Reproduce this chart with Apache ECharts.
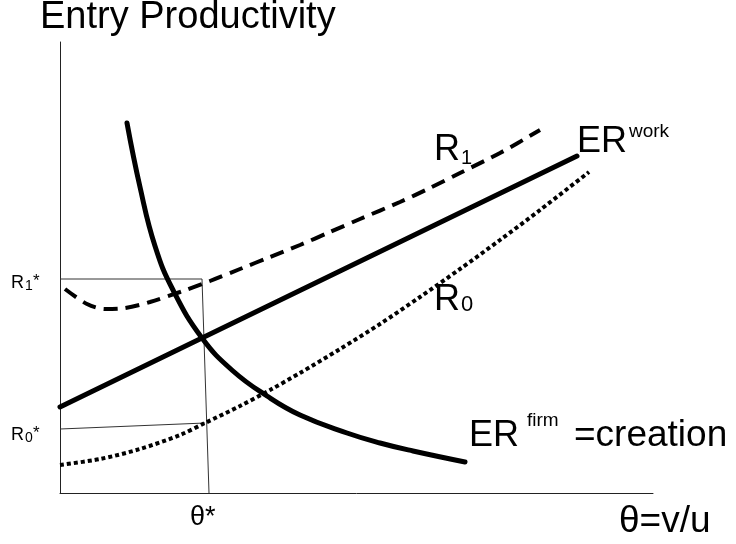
<!DOCTYPE html>
<html>
<head>
<meta charset="utf-8">
<script src="https://cdn.jsdelivr.net/npm/echarts@6/dist/echarts.min.js"></script>
<style>
html,body{margin:0;padding:0;background:#fff;}
#chart{width:736px;height:544px;}
</style>
</head>
<body>
<div id="chart"></div>
<script>
// Values (x: theta units, y: productivity units)
var erWork = [[0, 86], [142, 155], [517, 337]];
var erFirm = [[67, 370], [80, 306], [95, 247], [113, 203], [142, 155], [173, 122], [207, 97], [240, 78], [287, 60], [320, 50], [353, 42], [405, 31]];
var r1 = [[5, 204], [27, 189], [45, 184], [65, 185], [90, 191], [120, 201], [150, 212], [180, 224], [210, 236], [240, 248], [270, 261], [300, 274], [340, 291], [370, 305], [400, 320], [440, 340], [480, 363]];
var r0 = [[0, 28], [40, 34], [80, 44], [120, 58], [145, 70], [180, 87], [210, 103], [240, 120], [280, 144], [320, 169], [360, 196], [400, 224], [440, 253], [480, 283], [529, 321]];
var r1StarGuide = [[0, 214], [142, 214], [149, 0]];
var r0StarGuide = [[0, 64], [145, 70]];
var xRange = [0, 593];
var yRange = [0, 451];

var FONT = 'Liberation Sans, Arial, sans-serif';
function txt(x, y, s, size, align, va) {
  return {type: 'text', x: x, y: y, style: {text: s, fontSize: size, fontFamily: FONT, fill: '#000', align: align || 'left', verticalAlign: va || 'middle'}};
}

var chart = echarts.init(document.getElementById('chart'), null, {renderer: 'canvas'});
chart.setOption({
  animation: false,
  backgroundColor: '#fff',
  grid: {left: 60, top: 42, width: 593, height: 451},
  xAxis: {type: 'value', min: xRange[0], max: xRange[1], axisLine: {show: true, onZero: false, lineStyle: {color: '#222', width: 1}}, axisTick: {show: false}, axisLabel: {show: false}, splitLine: {show: false}},
  yAxis: {type: 'value', min: yRange[0], max: yRange[1], axisLine: {show: true, onZero: false, lineStyle: {color: '#222', width: 1}}, axisTick: {show: false}, axisLabel: {show: false}, splitLine: {show: false}},
  series: [
    {type: 'line', data: r1StarGuide, showSymbol: false, lineStyle: {color: '#333', width: 1}, z: 1},
    {type: 'line', data: r0StarGuide, showSymbol: false, lineStyle: {color: '#333', width: 1}, z: 1},
    {type: 'line', data: erWork, showSymbol: false, lineStyle: {color: '#000', width: 5, cap: 'round'}, z: 3},
    {type: 'line', data: erFirm, smooth: 0.45, showSymbol: false, lineStyle: {color: '#000', width: 5, cap: 'round'}, z: 3},
    {type: 'line', data: r1, smooth: 0.3, showSymbol: false, lineStyle: {color: '#000', width: 4, type: [14, 8]}, z: 2},
    {type: 'line', data: r0, smooth: 0.3, showSymbol: false, lineStyle: {color: '#000', width: 4, type: [4, 3]}, z: 2}
  ],
  graphic: [
    txt(40, 18, 'Entry Productivity', 38),
    // R1*
    txt(11, 283, 'R', 18), txt(25, 286, '1', 14), txt(33, 281, '*', 17),
    // R0*
    txt(11, 435, 'R', 18), txt(25, 438, '0', 14), txt(33, 433, '*', 17),
    // theta*
    txt(190, 518, 'θ*', 27),
    // theta = v/u
    txt(619, 522, 'θ=v/u', 37),
    // ER firm = creation
    txt(469, 436, 'ER', 36), txt(527, 421, 'firm', 19), txt(574, 436, '=creation', 37),
    // ER work
    txt(577, 142, 'ER', 36), txt(629, 132, 'work', 19),
    // R1 label
    txt(434, 150, 'R', 36), txt(461, 158, '1', 20),
    // R0 label
    txt(434, 300, 'R', 36), txt(461, 305, '0', 22)
  ]
});
</script>
</body>
</html>
